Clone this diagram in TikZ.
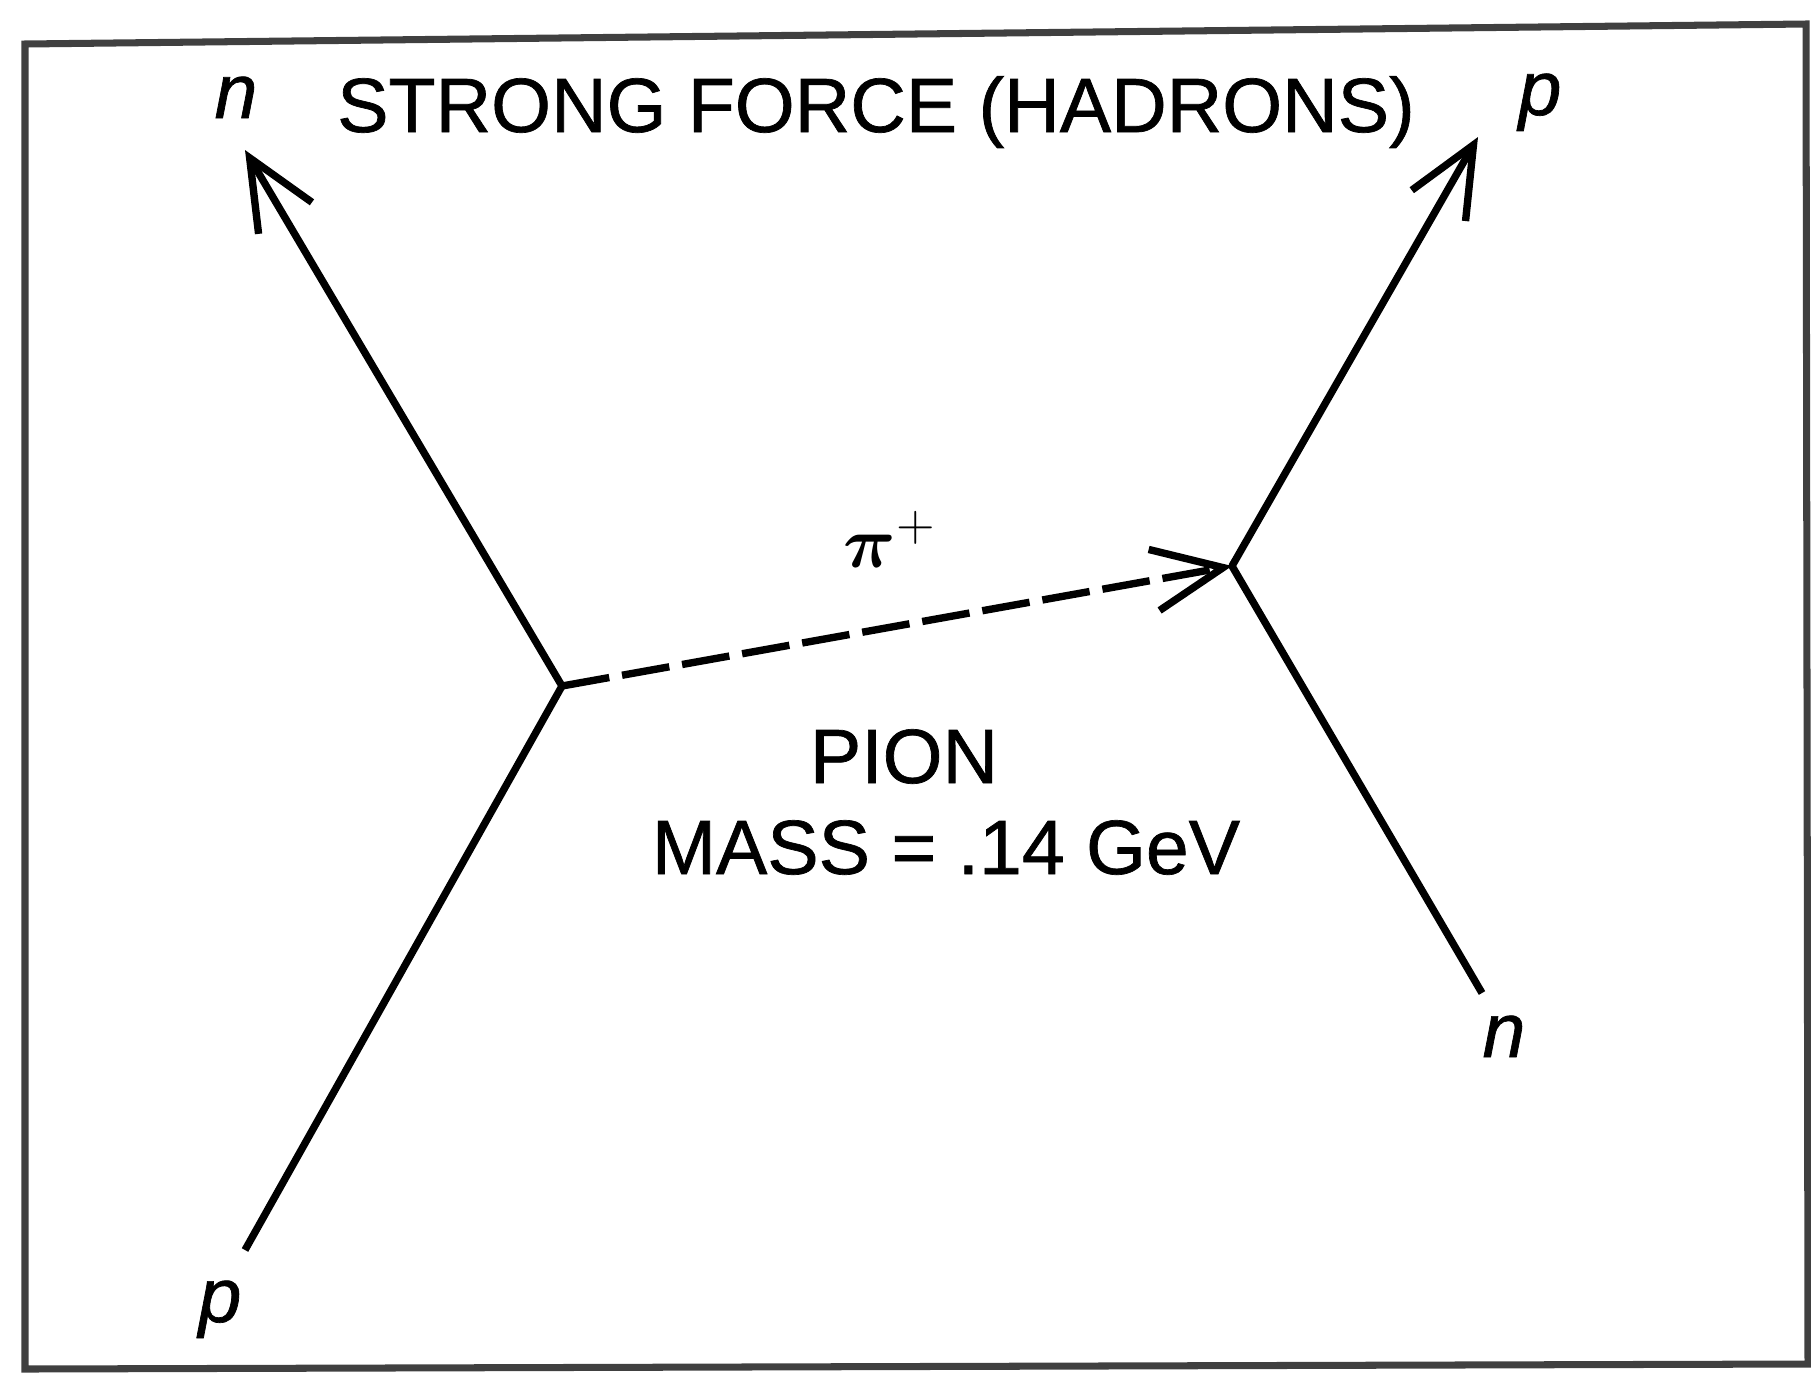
\documentclass[tikz,border=0pt]{standalone}
\usepackage{amsmath}
\usepackage{fontspec}
\setmainfont{Liberation Sans}[RawFeature={embolden=0.9}]
\usetikzlibrary{arrows.meta}

\begin{document}
\begin{tikzpicture}[x=0.1mm, y=-0.1mm,
    txt/.style={font=\fontsize{21.9}{26}\selectfont, inner sep=0pt, anchor=base},
    part/.style={txt, font=\fontsize{21.9}{26}\selectfont\itshape},
    leg/.style={line width=2.1pt, line join=round},
    frame/.style={draw=black!75, line width=2pt},
    >={Straight Barb[length=7mm, width=6.2mm]},
]
\useasboundingbox (0,0) rectangle (1811,1372);
\draw[frame] (25,44) -- (1806,24) -- (1808,1364) -- (25,1369) -- cycle;

\coordinate (v1) at (562,686);
\coordinate (v2) at (1232,566);
\coordinate (nw) at (245,150);
\coordinate (sw) at (245,1250);
\coordinate (ne) at (1478,137);
\coordinate (se) at (1482,993);

\draw[leg,->] (sw) -- (v1) -- (nw);
\draw[leg,->] (se) -- (v2) -- (ne);
\draw[leg,->, dash pattern=on 4.8mm off 1.3mm] (v1) -- (v2);

\node[txt] (title) at (876,132) {STRONG FORCE (HADRONS)};
\node[part] (nTop) at (236,118) {n};
\node[part] (pTop) at (1540,115) {p};
\node[part] (pBot) at (220,1322) {p};
\node[part] (nBot) at (1504,1057) {n};
\node[txt, anchor=base west] (pi) at (843,567) {$\boldsymbol{\pi}^{+}$};
\node[txt] (pion) at (904,783) {PION};
\node[txt] (mass) at (946,874) {MASS = .14 GeV};
\end{tikzpicture}
\end{document}
